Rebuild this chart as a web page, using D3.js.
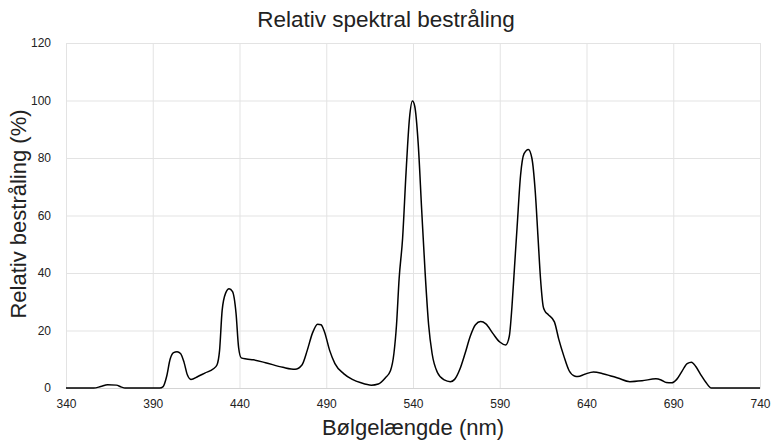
<!DOCTYPE html>
<html>
<head>
<meta charset="utf-8">
<script src="https://cdn.jsdelivr.net/npm/d3@7"></script>
<style>
  body { margin: 0; background: #fff; }
  text { font-family: "Liberation Sans", Arial, Helvetica, sans-serif; fill: #222; }
</style>
</head>
<body>
<div class="chart"></div>
<script>
// wavelength (nm) and relative irradiance (%)
var wavelength = [340, 356, 360, 364, 369, 372, 374, 394, 396, 398, 400, 402, 404, 406, 408, 410, 412, 416, 420,
  425, 427, 428.5, 430, 432, 434, 436, 438, 439.5, 441, 444, 448, 455, 465, 472, 476, 479, 482, 485, 487, 489, 492,
  495, 500, 505, 510, 516, 520, 524, 527, 529, 530.5, 532, 534, 536, 538, 539.7, 541, 543, 545, 547, 549, 551, 554,
  558, 561.5, 564, 567, 570, 573, 576, 579, 582, 586, 590, 593.5, 595.5, 597, 598.5, 600, 602, 604, 606.5, 608.5,
  610.5, 612, 613.5, 615, 616, 618, 621.5, 624, 627, 630, 633, 635, 639, 644, 650, 658, 665, 672, 680, 683, 686,
  689, 692, 695, 698, 700.5, 703, 706, 709, 712, 740];
var irradiance = [0, 0, 0.5, 1.1, 1.0, 0.3, 0, 0, 0.5, 4, 10, 12.3, 12.6, 12, 9, 4.5, 3.0, 4, 5.2,
  6.7, 8, 13, 27, 33, 34.5, 33.5, 26, 14, 10.5, 10.1, 9.8, 8.8, 7.2, 6.5, 8, 13, 19, 22.2, 22, 19.5, 13,
  8.5, 5, 3, 1.8, 1.0, 1.4, 3.5, 6, 12, 22, 38, 52, 75, 94, 99.8, 98, 85, 62, 40, 22, 12, 5.5,
  2.8, 2.2, 3, 6.5, 12, 18, 22, 23.1, 22.3, 19, 16, 15, 18, 28, 42, 56, 74, 81.5, 83, 80,
  68, 53, 38, 28.5, 26.8, 25.5, 23, 17, 11, 6, 4.2, 4.0, 4.8, 5.6, 4.9, 3.5, 2.2, 2.5, 3.2, 2.8, 1.9,
  1.8, 3, 5.8, 8.5, 9, 7.5, 4.5, 1.8, 0, 0];
var xTicks = [340, 390, 440, 490, 540, 590, 640, 690, 740];
var yTicks = [0, 20, 40, 60, 80, 100, 120];

var svgWidth = 772;
var svgHeight = 441;
var margin = { top: 43, right: 12, bottom: 53, left: 66 };
var width = svgWidth - margin.left - margin.right;
var height = svgHeight - margin.top - margin.bottom;

var svg = d3.select(".chart")
  .append("svg")
  .attr("width", svgWidth)
  .attr("height", svgHeight);

var chartGroup = svg.append("g")
  .attr("transform", `translate(${margin.left}, ${margin.top})`);

var xScale = d3.scaleLinear().domain([340, 740]).range([0, width]);
var yScale = d3.scaleLinear().domain([0, 120]).range([height, 0]);

// gridlines
chartGroup.append("g")
  .call(d3.axisLeft(yScale).tickValues(yTicks).tickSize(-width).tickFormat(""))
  .call(g => g.select(".domain").remove())
  .selectAll("line").attr("stroke", "#e3e3e3");

chartGroup.append("g")
  .call(d3.axisBottom(xScale).tickValues(xTicks).tickSize(height).tickFormat(""))
  .call(g => g.select(".domain").remove())
  .selectAll("line").attr("stroke", "#e3e3e3");

// bottom axis
var bottomAxis = chartGroup.append("g")
  .attr("transform", `translate(0, ${height})`)
  .call(d3.axisBottom(xScale).tickValues(xTicks).tickSize(0).tickPadding(11).tickFormat(d3.format("d")));
bottomAxis.select(".domain").attr("stroke", "#d4d4d4");
bottomAxis.selectAll("text").style("font-size", "12px").attr("fill", "#222");

// left axis labels
var leftAxis = chartGroup.append("g")
  .call(d3.axisLeft(yScale).tickValues(yTicks).tickSize(0).tickPadding(15));
leftAxis.select(".domain").remove();
leftAxis.selectAll("text").style("font-size", "12px").attr("fill", "#222");

// spectrum line
var points = wavelength.map((w, i) => [w, irradiance[i]]);
var line = d3.line()
  .x(d => xScale(d[0]))
  .y(d => yScale(d[1]))
  .curve(d3.curveMonotoneX);

chartGroup.append("path")
  .datum(points)
  .attr("fill", "none")
  .attr("stroke", "#000")
  .attr("stroke-width", 1.5)
  .attr("d", line);

// titles
svg.append("text")
  .attr("x", 386)
  .attr("y", 27)
  .attr("text-anchor", "middle")
  .style("font-size", "22.5px")
  .text("Relativ spektral bestråling");

svg.append("text")
  .attr("transform", "rotate(-90)")
  .attr("x", -214)
  .attr("y", 26)
  .attr("text-anchor", "middle")
  .style("font-size", "22px")
  .text("Relativ bestråling (%)");

svg.append("text")
  .attr("x", 413)
  .attr("y", 435)
  .attr("text-anchor", "middle")
  .style("font-size", "22px")
  .text("Bølgelængde (nm)");
</script>
</body>
</html>
